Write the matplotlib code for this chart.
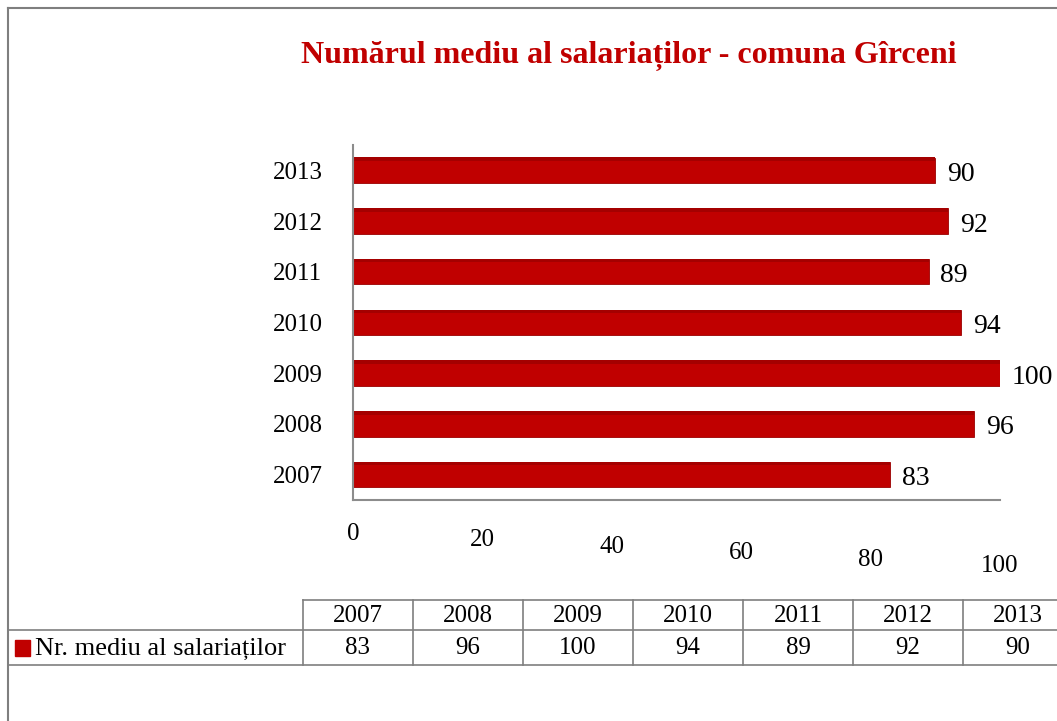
import matplotlib.pyplot as plt
from matplotlib.lines import Line2D
from matplotlib.patches import Rectangle

years = ["2007", "2008", "2009", "2010", "2011", "2012", "2013"]
salariati = [83, 96, 100, 94, 89, 92, 90]
x_ticks = [0, 20, 40, 60, 80, 100]
title = "Numărul mediu al salariaților - comuna Gîrceni"
series_name = "Nr. mediu al salariaților"

plt.rcParams['font.family'] = ['Liberation Serif', 'DejaVu Serif']

W, H = 1057, 721
fig = plt.figure(figsize=(W / 100, H / 100), dpi=100)

def fx(px):
    return px / W

def fy(py):
    return 1 - py / H

red = "#C00000"
grid = "#8c8c8c"

# outer frame of the chart
fig.add_artist(Line2D([fx(8), fx(8)], [fy(8), fy(721)], color="#7f7f7f", lw=1.5))
fig.add_artist(Line2D([fx(8), fx(1057)], [fy(8), fy(8)], color="#7f7f7f", lw=1.5))

fig.text(fx(629), fy(56), title, ha="center", va="center",
         fontsize=23, fontweight="bold", color=red)

ax = fig.add_axes([fx(353), fy(500), fx(1000) - fx(353), fy(145) - fy(500)])
pos = list(range(len(years)))
ax.barh(pos, salariati, height=0.5, color=red, edgecolor="#9a0000", linewidth=0.6)
# darker top strip to hint at the 3D look
ax.barh([p + 0.22 for p in pos], salariati, height=0.07, color="#a40000", linewidth=0)

for p, v in zip(pos, salariati):
    ax.text(v + 1.8, p - 0.08, str(v), va="center", ha="left", fontsize=20)

ax.set_xlim(0, 100)
ax.set_ylim(-0.5, len(years) - 0.5)
ax.set_yticks(pos)
ax.set_yticklabels(years, fontsize=18)
ax.tick_params(axis="y", length=0, pad=22)
ax.set_xticks([])
for t in x_ticks:
    # tick labels sink slightly to the right, like the perspective floor
    ax.text(t, -0.065 - t * 0.0009, str(t), transform=ax.get_xaxis_transform(),
            ha="center", va="top", fontsize=18)

for s in ["top", "right"]:
    ax.spines[s].set_visible(False)
ax.spines["left"].set_color(grid)
ax.spines["left"].set_linewidth(1.5)
ax.spines["bottom"].set_color(grid)
ax.spines["bottom"].set_linewidth(1.5)

# data table under the chart
col0 = 303
col_w = 110
top, mid, bot = 600, 630, 665
lc = "#7f7f7f"
right_edge = col0 + col_w * len(years)
fig.add_artist(Line2D([fx(col0), fx(right_edge)], [fy(top), fy(top)], color=lc, lw=1.2))
fig.add_artist(Line2D([fx(8), fx(right_edge)], [fy(mid), fy(mid)], color=lc, lw=1.2))
fig.add_artist(Line2D([fx(8), fx(1057)], [fy(bot), fy(bot)], color=lc, lw=1.2))
for i in range(len(years) + 1):
    x = col0 + i * col_w
    fig.add_artist(Line2D([fx(x), fx(x)], [fy(top), fy(bot)], color=lc, lw=1.2))

for i, (yr, v) in enumerate(zip(years, salariati)):
    cx = col0 + col_w * (i + 0.5)
    fig.text(fx(cx), fy((top + mid) / 2 + 1), yr, ha="center", va="center", fontsize=18)
    fig.text(fx(cx), fy((mid + bot) / 2 + 1), str(v), ha="center", va="center", fontsize=18)

fig.add_artist(Rectangle((fx(15), fy(656)), fx(15), fy(640) - fy(656), color=red))
fig.text(fx(35), fy((mid + bot) / 2 + 1), series_name, ha="left", va="center", fontsize=19)

fig.savefig("out.png", dpi=100)
